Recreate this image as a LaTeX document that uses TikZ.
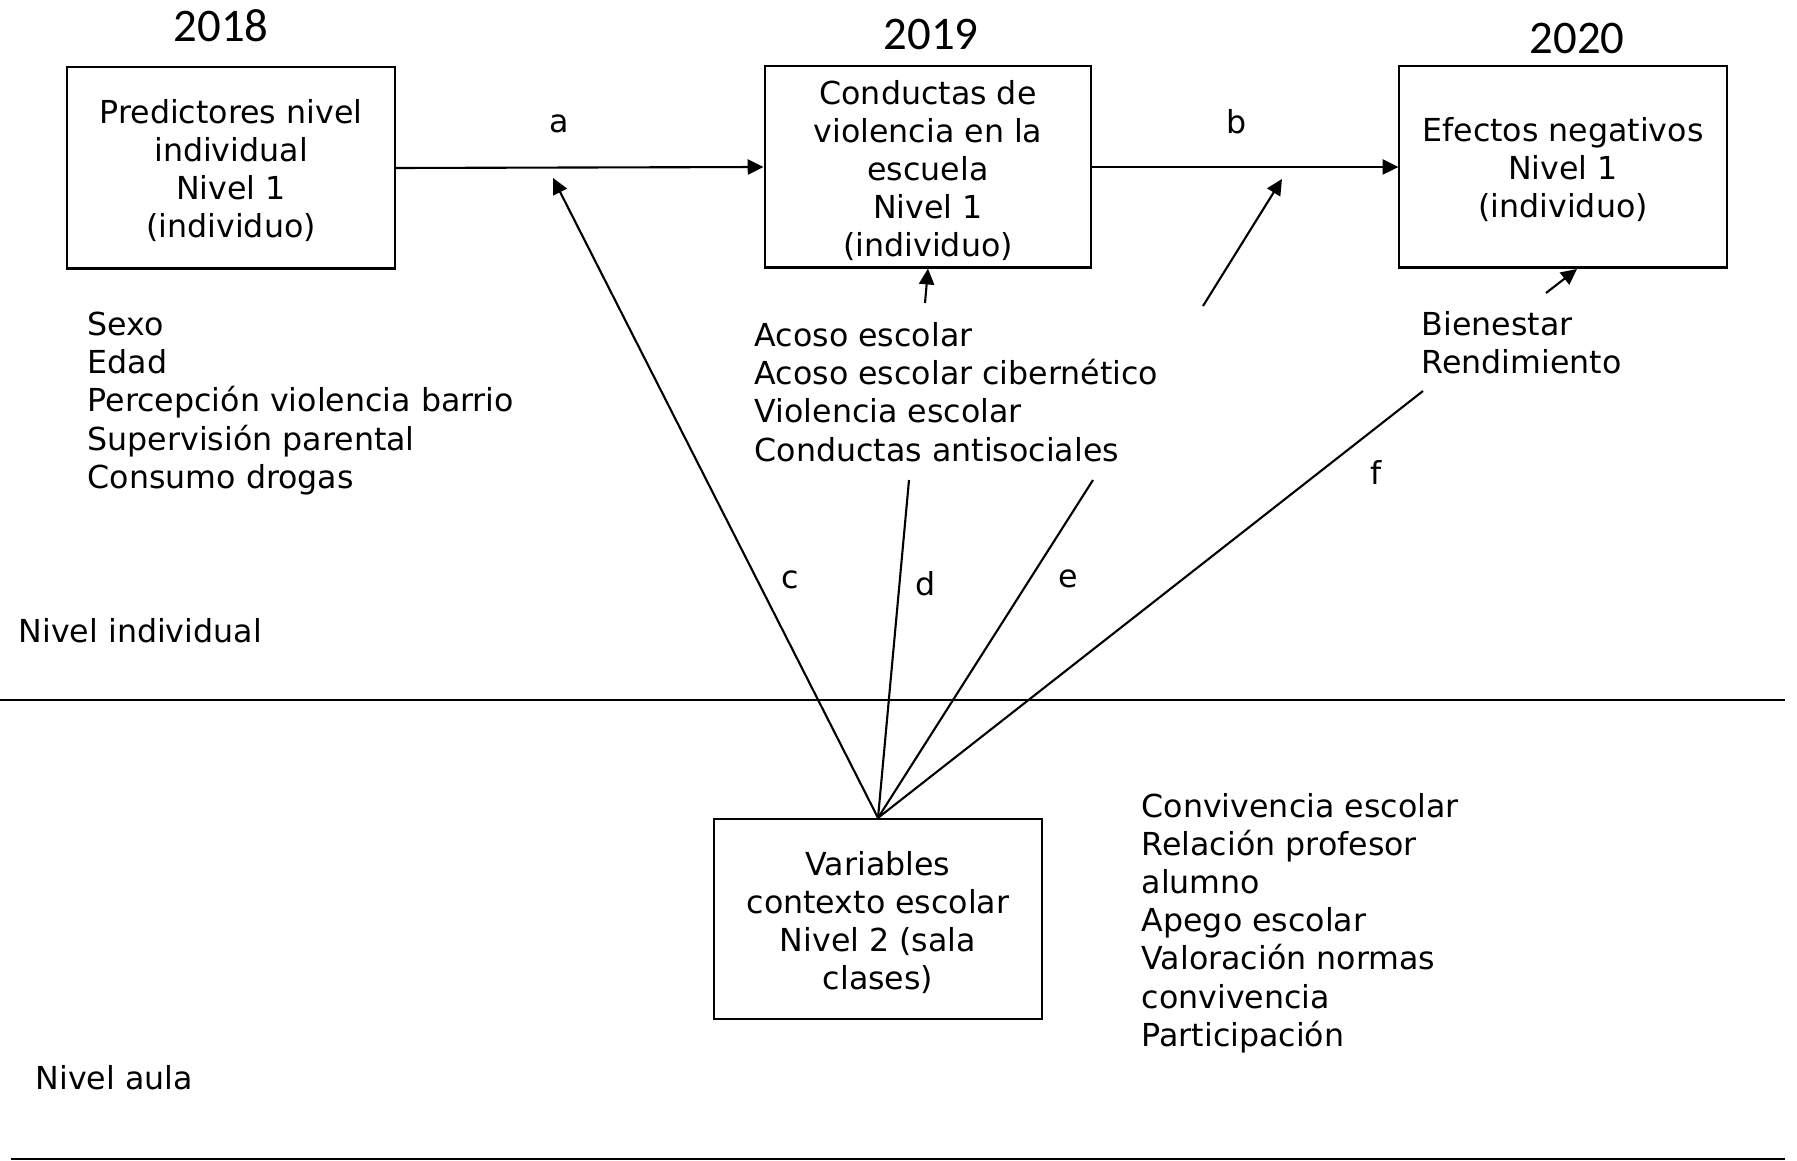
\documentclass[tikz,border=0pt]{standalone}
\usepackage{fontspec}
\setmainfont{DejaVu Sans}
\newfontfamily\yearfont{Carlito}
\usetikzlibrary{arrows.meta}
\begin{document}
\begin{tikzpicture}[x=0.01cm,y=-0.01cm,
  txt/.style={font=\fontsize{9}{10.86}\selectfont, inner sep=0pt, align=left},
  boxnode/.style={draw, line width=0.6pt, inner sep=0pt},
  boxtxt/.style={inner sep=0pt, align=center, font=\fontsize{9}{10.86}\selectfont},
  yearlbl/.style={font=\yearfont\fontsize{13.3}{16}\selectfont, inner sep=0pt},
  conn/.style={line width=0.6pt},
  arr/.style={line width=0.6pt, -{Triangle[length=4.5pt,width=4.3pt]}},
  sep/.style={line width=0.45pt}]
\useasboundingbox (0,0) rectangle (1797,1161);

% years
\node[yearlbl] (y18) at (221,26) {2018};
\node[yearlbl] (y19) at (931,34) {2019};
\node[yearlbl] (y20) at (1577,38) {2020};

% boxes
\node[boxnode, minimum width=3.277cm, minimum height=2.01cm] (pred) at (231,168) {};
\node[boxnode, minimum width=3.266cm, minimum height=2.01cm] (conv) at (928,167) {};
\node[boxnode, minimum width=3.27cm, minimum height=2.01cm] (efec) at (1563,167) {};
\node[boxnode, minimum width=3.274cm, minimum height=2.0cm] (ctx) at (878,919) {};

\node[boxtxt, yshift=-0.7pt] (predtxt) at (pred.center)
  {Predictores nivel\\individual\\Nivel 1\\(individuo)};
\node[boxtxt, yshift=-1pt] (convtxt) at (conv.center)
  {Conductas de\\violencia en la\\escuela\\Nivel 1\\(individuo)};
\node[boxtxt, yshift=-0.7pt] (efectxt) at (efec.center)
  {Efectos negativos\\Nivel 1\\(individuo)};
\node[boxtxt, yshift=-1pt] (ctxtxt) at (ctx.center)
  {Variables\\contexto escolar\\Nivel 2 (sala\\clases)};

% lists
\node[txt, anchor=west] (lind) at (87,403.5)
  {Sexo\\Edad\\Percepción violencia barrio\\Supervisión parental\\Consumo drogas};
\node[txt, anchor=west] (lmid) at (754,392)
  {Acoso escolar\\Acoso escolar cibernético\\Violencia escolar\\Conductas antisociales};
\node[txt, anchor=west] (lbien) at (1421,343)
  {Bienestar\\Rendimiento};
\node[txt, anchor=west] (lconv) at (1141,923)
  {Convivencia escolar\\Relación profesor\\alumno\\Apego escolar\\Valoración normas\\convivencia\\Participación};
\node[txt, anchor=west] (nivind) at (18,631) {Nivel individual};
\node[txt, anchor=west] (nivaula) at (35,1078) {Nivel aula};

% path letters
\node[txt] (la) at (559,124) {a};
\node[txt] (lb) at (1237,122) {b};
\node[txt] (lc) at (790,580) {c};
\node[txt] (ld) at (926,584) {d};
\node[txt] (le) at (1068,579) {e};
\node[txt] (lf) at (1376,472) {f};

% coordinates
\coordinate (ctip) at (553,178);
\coordinate (dtop) at (909,480);
\coordinate (etop) at (1093,480);
\coordinate (ftop) at (1423,391);
\coordinate (dsb) at (925,303);
\coordinate (es) at (1203,306);
\coordinate (et) at (1282,179);
\coordinate (fs) at (1546,293);
\coordinate (ft) at (1577,269);
\coordinate (h1a) at (0,700);
\coordinate (h1b) at (1785,700);
\coordinate (h2a) at (11,1159);
\coordinate (h2b) at (1785,1159);

% separators
\draw[sep] (h1a) -- (h1b);
\draw[sep] (h2a) -- (h2b);

% connectors
\draw[arr] (pred.east) -- (conv.west);
\draw[arr] (conv.east) -- (efec.west);
\draw[arr] (ctx.north) -- (ctip);
\draw[conn] (ctx.north) -- (dtop);
\draw[conn] (ctx.north) -- (etop);
\draw[conn] (ctx.north) -- (ftop);
\draw[arr] (dsb) -- (conv.south);
\draw[arr] (es) -- (et);
\draw[arr] (fs) -- (ft);
\end{tikzpicture}
\end{document}
